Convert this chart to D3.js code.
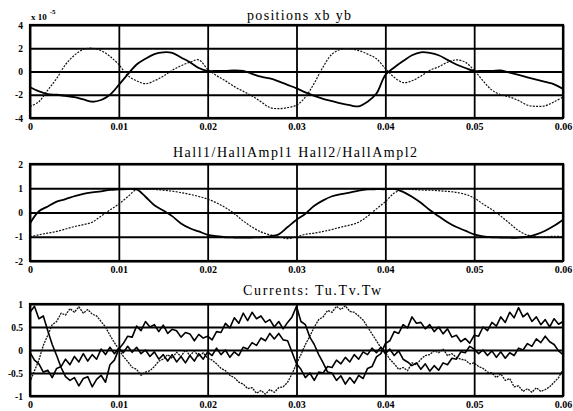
<!DOCTYPE html>
<html>
<head>
<meta charset="utf-8">
<script src="https://cdn.jsdelivr.net/npm/d3@7"></script>
<style>
body { margin: 0; background: #fff; }
svg { display: block; font-family: "Liberation Serif", "DejaVu Serif", serif; }
</style>
</head>
<body>
<script>
// x axis shared by the three panels
var xTicks = [0, 0.01, 0.02, 0.03, 0.04, 0.05, 0.06];
var xTickLabels = ["0", "0.01", "0.02", "0.03", "0.04", "0.05", "0.06"];

// sample times (1 ms for positions / hall, 0.5 ms for currents)
var tSlow = d3.range(61).map(i => i * 0.001);
var tFast = d3.range(121).map(i => i * 0.0005);

// positions xb yb (x 10^-5)
var posTicks = [-4, -2, 0, 2, 4];
var posTickLabels = ["-4", "-2", "0", "2", "4"];
var xb = [-1.35,-1.7,-1.95,-2.0,-2.1,-2.2,-2.4,-2.6,-2.45,-2.0,
  -1.15,-0.25,0.6,1.1,1.5,1.65,1.6,1.2,0.8,0.3,
  0.05,0.05,0.05,0.1,0.05,-0.2,-0.45,-0.6,-0.85,-1.15,
  -1.45,-1.8,-2.1,-2.35,-2.55,-2.75,-2.9,-3.0,-2.6,-1.9,
  -0.3,0.35,0.9,1.4,1.65,1.6,1.4,1.0,0.6,0.3,
  0.05,0.05,0.05,0.1,-0.1,-0.3,-0.5,-0.7,-0.9,-1.1,
  -1.5];
var yb = [-3.0,-2.6,-1.6,-0.6,0.6,1.4,1.9,2.0,1.8,1.3,
  0.6,-0.35,-0.8,-1.05,-0.8,-0.4,0.1,0.5,0.8,1.0,
  0.2,-0.35,-0.8,-1.3,-1.7,-2.1,-2.6,-3.1,-3.2,-3.1,
  -2.9,-2.2,-1.0,0.4,1.5,1.9,1.95,1.8,1.5,1.1,
  0.25,-0.5,-0.95,-0.8,-0.4,0.1,0.4,0.8,1.0,0.8,
  0.1,-0.8,-1.6,-2.0,-2.2,-2.5,-2.9,-3.0,-2.95,-2.6,
  -2.2];

// Hall1/HallAmpl1 Hall2/HallAmpl2
var hallTicks = [-2, -1, 0, 1, 2];
var hallTickLabels = ["-2", "-1", "0", "1", "2"];
var hall1 = [-0.45,0.05,0.25,0.45,0.55,0.67,0.77,0.83,0.87,0.93,
  0.95,0.97,0.95,0.65,0.3,0.08,-0.15,-0.45,-0.65,-0.78,
  -0.92,-0.98,-1.02,-1.03,-1.03,-1.03,-1.02,-0.98,-0.9,-0.6,
  -0.3,-0.05,0.28,0.5,0.67,0.76,0.82,0.9,0.95,0.96,
  0.96,0.97,0.85,0.65,0.4,0.1,-0.15,-0.4,-0.6,-0.75,
  -0.9,-0.98,-1.02,-1.03,-1.04,-1.04,-1.0,-0.9,-0.75,-0.55,
  -0.3];
var hall2 = [-1.0,-0.92,-0.85,-0.78,-0.68,-0.58,-0.5,-0.4,-0.15,0.1,
  0.35,0.65,0.95,0.95,0.95,0.92,0.88,0.82,0.75,0.66,
  0.55,0.4,0.2,-0.05,-0.35,-0.6,-0.8,-0.92,-1.0,-1.08,
  -1.0,-0.9,-0.85,-0.78,-0.7,-0.6,-0.52,-0.4,-0.15,0.15,
  0.45,0.8,0.95,0.95,0.93,0.92,0.9,0.87,0.83,0.75,
  0.6,0.35,0.12,-0.15,-0.45,-0.75,-0.93,-1.0,-1.0,-0.98,
  -1.0];

// Currents: Tu.Tv.Tw
var curTicks = [-1, -0.5, 0, 0.5, 1];
var curTickLabels = ["-1", "-0.5", "0", "0.5", "1"];
var tu = [0.82,0.95,0.68,0.74,0.42,0.12,-0.12,-0.38,-0.58,-0.66,
  -0.6,-0.78,-0.62,-0.58,-0.8,-0.64,-0.55,-0.7,-0.32,-0.22,
  0.02,0.14,0.3,0.28,0.52,0.42,0.62,0.5,0.55,0.4,
  0.54,0.36,0.45,0.42,0.28,0.38,0.35,0.2,0.34,0.26,
  0.3,0.22,0.4,0.38,0.58,0.48,0.7,0.58,0.8,0.64,
  0.82,0.68,0.74,0.6,0.66,0.5,0.62,0.46,0.6,0.72,
  0.95,0.62,0.55,0.28,0.12,-0.1,-0.28,-0.48,-0.5,-0.66,
  -0.56,-0.74,-0.6,-0.72,-0.55,-0.62,-0.4,-0.36,-0.15,-0.08,
  0.14,0.2,0.4,0.36,0.55,0.48,0.72,0.58,0.6,0.46,
  0.55,0.4,0.5,0.35,0.46,0.28,0.32,0.18,0.25,0.15,
  0.32,0.3,0.5,0.42,0.6,0.52,0.72,0.6,0.82,0.7,
  0.92,0.72,0.8,0.62,0.72,0.55,0.66,0.5,0.68,0.56,
  0.62];
var tv = [-0.7,-0.45,-0.22,0.1,0.32,0.55,0.62,0.8,0.76,0.9,
  0.82,0.94,0.8,0.88,0.78,0.74,0.62,0.5,0.32,0.16,
  0.02,-0.14,-0.25,-0.38,-0.42,-0.55,-0.48,-0.45,-0.36,-0.24,
  -0.2,-0.1,-0.18,-0.05,-0.14,0.0,-0.12,-0.02,-0.14,-0.06,
  -0.18,-0.22,-0.3,-0.4,-0.45,-0.55,-0.6,-0.7,-0.74,-0.84,
  -0.82,-0.94,-0.88,-0.96,-0.86,-0.92,-0.82,-0.8,-0.7,-0.52,
  -0.3,-0.1,0.12,0.3,0.5,0.66,0.72,0.86,0.82,0.95,
  0.88,0.96,0.84,0.82,0.74,0.65,0.5,0.35,0.2,0.05,
  -0.05,-0.2,-0.3,-0.42,-0.38,-0.45,-0.28,-0.32,-0.2,-0.12,
  -0.1,-0.02,-0.06,0.02,-0.12,-0.08,-0.16,-0.2,-0.22,-0.3,
  -0.28,-0.36,-0.4,-0.48,-0.5,-0.6,-0.52,-0.66,-0.62,-0.8,
  -0.78,-0.9,-0.84,-0.92,-0.82,-0.9,-0.86,-0.8,-0.7,-0.6,
  -0.42];
var tw = [-0.05,-0.22,-0.3,-0.48,-0.44,-0.6,-0.4,-0.36,-0.2,-0.32,
  -0.14,-0.26,-0.08,-0.24,-0.1,-0.2,0.02,-0.1,0.06,-0.08,
  0.04,-0.06,0.08,-0.05,0.06,-0.08,0.0,-0.14,-0.04,-0.2,
  -0.1,-0.24,-0.1,-0.26,-0.14,-0.28,-0.12,-0.24,-0.08,-0.2,
  -0.04,-0.12,0.04,-0.1,0.0,-0.16,-0.04,-0.12,0.06,0.02,
  0.16,0.1,0.26,0.2,0.36,0.24,0.36,0.22,0.2,-0.05,
  -0.3,-0.42,-0.6,-0.5,-0.66,-0.48,-0.5,-0.36,-0.38,-0.22,
  -0.3,-0.16,-0.26,-0.1,-0.2,-0.04,-0.1,0.04,-0.06,0.06,
  -0.08,0.02,-0.12,-0.02,-0.2,-0.26,-0.34,-0.28,-0.42,-0.3,
  -0.46,-0.34,-0.44,-0.28,-0.32,-0.18,-0.2,-0.04,-0.06,0.08,
  0.02,-0.08,0.0,-0.12,-0.02,-0.16,-0.04,-0.18,-0.06,-0.12,
  0.04,0.0,0.14,0.08,0.24,0.16,0.3,0.18,0.12,-0.02,
  -0.1];

var svgWidth = 573, svgHeight = 411;
var plotLeft = 30, plotRight = 563;

var svg = d3.select("body").append("svg")
  .attr("width", svgWidth)
  .attr("height", svgHeight);

// solid = dark thick, dotted = thin broken trace
var solid = { stroke: "#000", width: 1.8, dash: null };
var dotted = { stroke: "#111", width: 1.2, dash: "2,1.3" };

var panels = [
  { title: "positions xb yb", titleX: 299, titleY: 20, titleLen: 104,
    top: 25, bottom: 118, domain: [-4, 4], ticks: posTicks, labels: posTickLabels,
    curve: d3.curveCatmullRom,
    series: [ { t: tSlow, v: yb, style: dotted }, { t: tSlow, v: xb, style: solid } ] },
  { title: "Hall1/HallAmpl1 Hall2/HallAmpl2", titleX: 295, titleY: 157, titleLen: 244,
    top: 164, bottom: 261, domain: [-2, 2], ticks: hallTicks, labels: hallTickLabels,
    curve: d3.curveCatmullRom,
    series: [ { t: tSlow, v: hall2, style: dotted }, { t: tSlow, v: hall1, style: solid } ] },
  { title: "Currents: Tu.Tv.Tw", titleX: 312, titleY: 295, titleLen: 138,
    top: 304, bottom: 396, domain: [-1, 1], ticks: curTicks, labels: curTickLabels,
    curve: d3.curveLinear,
    series: [ { t: tFast, v: tv, style: { stroke: "#111", width: 1.3, dash: "2,1" } },
              { t: tFast, v: tw, style: { stroke: "#000", width: 1.6, dash: null } },
              { t: tFast, v: tu, style: { stroke: "#000", width: 1.6, dash: null } } ] }
];

var xScale = d3.scaleLinear().domain([0, 0.06]).range([plotLeft, plotRight]);

panels.forEach(function(p) {
  var yScale = d3.scaleLinear().domain(p.domain).range([p.bottom, p.top]);
  var g = svg.append("g");

  // vertical grid + x tick labels
  g.append("g")
    .attr("transform", `translate(0, ${p.bottom})`)
    .call(d3.axisBottom(xScale)
      .tickValues(xTicks)
      .tickFormat((d, i) => xTickLabels[i])
      .tickSize(-(p.bottom - p.top))
      .tickPadding(5))
    .call(a => a.select(".domain").remove())
    .call(a => a.selectAll("line").attr("stroke", "#000").attr("stroke-width", 1.8))
    .call(a => a.selectAll("text")
      .attr("font-family", "Liberation Serif, serif")
      .attr("font-size", 10).attr("font-weight", "bold").attr("fill", "#000"));

  // horizontal grid + y tick labels
  g.append("g")
    .attr("transform", `translate(${plotLeft}, 0)`)
    .call(d3.axisLeft(yScale)
      .tickValues(p.ticks)
      .tickFormat((d, i) => p.labels[i])
      .tickSize(-(plotRight - plotLeft))
      .tickPadding(7))
    .call(a => a.select(".domain").remove())
    .call(a => a.selectAll("line").attr("stroke", "#000").attr("stroke-width", 1.8))
    .call(a => a.selectAll("text")
      .attr("font-family", "Liberation Serif, serif")
      .attr("font-size", 9.5).attr("font-weight", "bold").attr("fill", "#000"));

  // traces
  p.series.forEach(function(s) {
    var line = d3.line()
      .x((d, i) => xScale(s.t[i]))
      .y(d => yScale(d))
      .curve(p.curve);
    g.append("path")
      .datum(s.v)
      .attr("fill", "none")
      .attr("stroke", s.style.stroke)
      .attr("stroke-width", s.style.width)
      .attr("stroke-dasharray", s.style.dash)
      .attr("stroke-linejoin", "round")
      .attr("d", line);
  });

  // frame
  g.append("rect")
    .attr("x", plotLeft).attr("y", p.top)
    .attr("width", plotRight - plotLeft).attr("height", p.bottom - p.top)
    .attr("fill", "none").attr("stroke", "#000").attr("stroke-width", 2.2);

  // title
  svg.append("text")
    .attr("x", p.titleX).attr("y", p.titleY)
    .attr("text-anchor", "middle")
    .attr("font-size", 14)
    .attr("textLength", p.titleLen)
    .attr("lengthAdjust", "spacing")
    .attr("fill", "#000")
    .text(p.title);
});

// exponent label on the position panel
var expo = svg.append("text")
  .attr("x", 31).attr("y", 20)
  .attr("font-size", 9).attr("font-weight", "bold").attr("fill", "#000");
expo.append("tspan").text("x 10");
expo.append("tspan").attr("dx", 3).attr("dy", -6).attr("font-size", 7).text("-5");
</script>
</body>
</html>
